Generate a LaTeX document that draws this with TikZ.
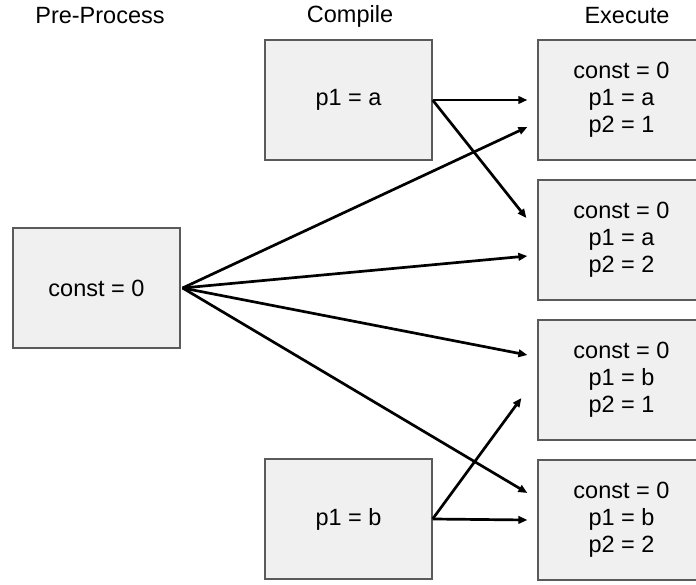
\documentclass[tikz,border=0pt]{standalone}
\usepackage{fontspec}
\setmainfont{Liberation Sans}
\usetikzlibrary{arrows.meta}
\definecolor{boxfill}{RGB}{240,240,240}
\definecolor{boxline}{RGB}{90,90,90}
\tikzset{
  box/.style={draw=boxline, line width=1.2pt, fill=boxfill, inner sep=0pt,
    minimum height=120pt, minimum width=167pt, align=center,
    font=\fontsize{23.5pt}{27pt}\selectfont},
  title/.style={font=\fontsize{23.5pt}{27pt}\selectfont, inner sep=0pt},
  arr/.style={line width=2.7pt, -{Triangle[length=9pt,width=7.5pt]}}
}
\begin{document}
\begin{tikzpicture}[x=1pt,y=-1pt]
\useasboundingbox (0,0) rectangle (696,585);
\clip (0,0) rectangle (696,585);
\node[title] (t1) at (100,16) {Pre-Process};
\node[title] (t2) at (350,16) {Compile};
\node[title] (t3) at (627,16) {Execute};

\node[box] (pa) at (348.5,100) {p1 = a};
\node[box] (c) at (96.5,288) {const = 0};
\node[box] (pb) at (348.5,519) {p1 = b};

\node[box] (e1) at (621.5,100) {const = 0\\p1 = a\\p2 = 1};
\node[box] (e2) at (621.5,240) {const = 0\\p1 = a\\p2 = 2};
\node[box] (e3) at (621.5,380) {const = 0\\p1 = b\\p2 = 1};
\node[box] (e4) at (621.5,520) {const = 0\\p1 = b\\p2 = 2};

\draw[arr] (pa.east) -- ([shift={(-10,0)}]e1.west);
\draw[arr] (pa.east) -- ([shift={(-11,-22)}]e2.west);
\draw[arr] ([xshift=2pt]c.east) -- ([shift={(-10,27)}]e1.west);
\draw[arr] ([xshift=2pt]c.east) -- ([shift={(-10,16)}]e2.west);
\draw[arr] ([xshift=2pt]c.east) -- ([shift={(-10,-25)}]e3.west);
\draw[arr] ([xshift=2pt]c.east) -- ([shift={(-10,-27)}]e4.west);
\draw[arr] (pb.east) -- ([shift={(-16,18)}]e3.west);
\draw[arr] (pb.east) -- ([shift={(-10,0)}]e4.west);
\end{tikzpicture}
\end{document}
